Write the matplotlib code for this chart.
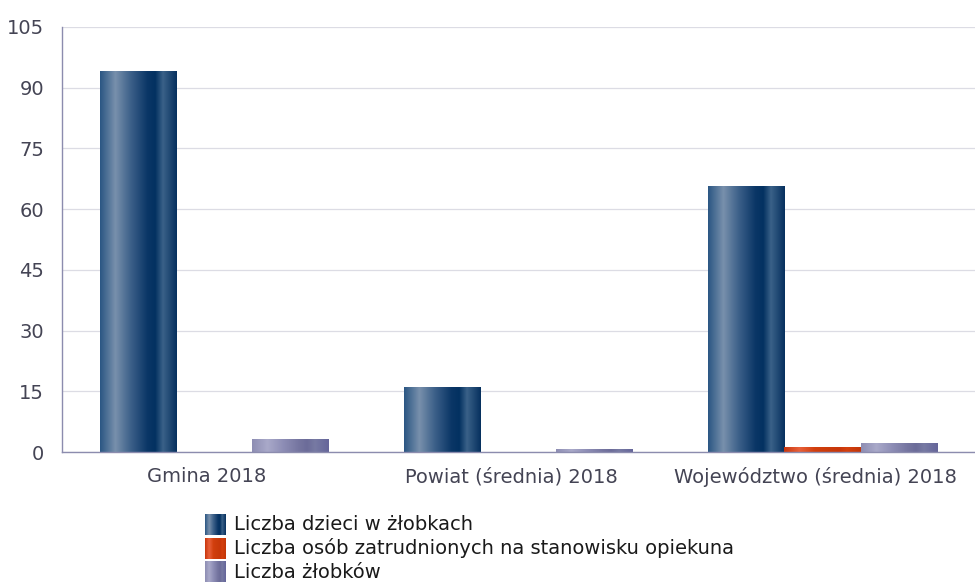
import numpy as np
import matplotlib
matplotlib.use("Agg")
import matplotlib.pyplot as plt
import matplotlib.transforms as mtransforms
from matplotlib.colors import LinearSegmentedColormap

categories = ["Gmina 2018", "Powiat (średnia) 2018", "Województwo (średnia) 2018"]
series_names = ["Liczba dzieci w żłobkach",
                "Liczba osób zatrudnionych na stanowisku opiekuna",
                "Liczba żłobków"]
dzieci = [94, 16, 65.5]
opiekunowie = [0, 0, 1.2]
zlobki = [3.2, 0.7, 2.2]
yticks = [0, 15, 30, 45, 60, 75, 90, 105]

# gradient stops per series (cylinder look)
grad_colors = [
    ["#2b5683", "#7890ac", "#3c6089", "#0a3666", "#033161", "#3a6188", "#06305e"],
    ["#c8360c", "#e8603a", "#d23f0e", "#c93a0a", "#c8360a", "#d4400e", "#c23508"],
    ["#8d8db3", "#a9a9c9", "#8e8eb6", "#74749f", "#6c6c99", "#777aa3", "#65659a"],
]
grad_pos = [0.0, 0.2, 0.4, 0.62, 0.72, 0.82, 1.0]

cmaps = [LinearSegmentedColormap.from_list("g%d" % i, list(zip(grad_pos, c)))
         for i, c in enumerate(grad_colors)]
gradient = np.linspace(0, 1, 256).reshape(1, -1)

fig = plt.figure(figsize=(9.75, 5.84), dpi=100)
ax = fig.add_axes([0.0636, 0.226, 0.936, 0.728])

x = np.arange(len(categories))
width = 0.25
values = [dzieci, opiekunowie, zlobki]
for i, vals in enumerate(values):
    bars = ax.bar(x + (i - 1) * width, vals, width, color="none", zorder=3)
    for b in bars:
        h = b.get_height()
        if h <= 0:
            continue
        ax.imshow(gradient, cmap=cmaps[i], aspect="auto", zorder=3,
                  extent=[b.get_x(), b.get_x() + b.get_width(), 0, h])

ax.set_xlim(-0.5, 2.5)
ax.set_ylim(0, 105)
ax.set_yticks(yticks)
ax.set_xticks(x)
ax.set_xticklabels(categories)
ax.tick_params(length=0, labelsize=14, colors="#444454")
ax.tick_params(axis="x", pad=11)
ax.tick_params(axis="y", pad=13)
# category labels sit a little left of the group centre in the original
shift = mtransforms.ScaledTranslation(-7 / 100, 0, fig.dpi_scale_trans)
for lbl in ax.get_xticklabels():
    lbl.set_transform(lbl.get_transform() + shift)
ax.grid(axis="y", color="#dcdce4", linewidth=0.9, zorder=0)
ax.set_axisbelow(True)
for s in ["top", "right"]:
    ax.spines[s].set_visible(False)
for s in ["left", "bottom"]:
    ax.spines[s].set_color("#8c8cae")
    ax.spines[s].set_linewidth(1.0)
    ax.spines[s].set_zorder(4)

# legend with gradient swatches
for i, name in enumerate(series_names):
    top = 514 + i * 23.5
    sw = fig.add_axes([205 / 975, 1 - (top + 21) / 584, 21 / 975, 21 / 584])
    sw.imshow(gradient, cmap=cmaps[i], aspect="auto")
    sw.axis("off")
    fig.text(234 / 975, 1 - (top + 11) / 584, name, fontsize=14,
             color="#1a1a1a", va="center", ha="left")

fig.savefig("out.png", dpi=100)
